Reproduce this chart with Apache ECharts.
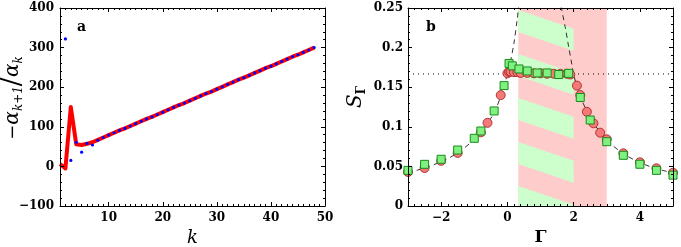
<!DOCTYPE html>
<html><head><meta charset="utf-8">
<script src="https://cdn.jsdelivr.net/npm/echarts@6/dist/echarts.min.js"></script>
<style>html,body{margin:0;padding:0;background:#fff}#c{width:681px;height:247px}</style>
</head><body><div id="c"></div>
<script>
// ---------- Panel a data ----------
const kRed = [1,2,3,4,5,6,7,8,9,10,11,12,13,14,15,16,17,18,19,20,21,22,23,24,25,26,27,28,29,30,31,32,33,34,35,36,37,38,39,40,41,42,43,44,45,46,47,48];
const redVals = [6,-5,150,56,54,57,61,67,73,79,85,91,96,102,108,114,120,125,131,137,143,149,155,160,166,172,178,184,189,195,201,207,213,219,224,230,236,242,248,253,259,265,271,277,282,288,294,300];
const kBlue = [2,3,4,5,6,7,8,9,10,11,12,13,14,15,16,17,18,19,20,21,22,23,24,25,26,27,28,29,30,31,32,33,34,35,36,37,38,39,40,41,42,43,44,45,46,47,48];
const blueVals = [322,15,61,36,58,54,66,73,79,85,91,96,102,108,114,120,125,131,137,143,149,155,160,166,172,178,184,189,195,201,207,213,219,224,230,236,242,248,253,259,265,271,277,282,288,294,300];
const aXTicks = [10,20,30,40,50];
const aYTicks = [-100,0,100,200,300,400];

// ---------- Panel b data ----------
const circG = [-3,-2.5,-2,-1.5,-0.8,-0.6,-0.2,0,0.05,0.1,0.2,0.3,0.4,0.6,0.8,1.0,1.2,1.4,1.6,1.8,1.9,2.1,2.2,2.4,2.6,2.8,3.0,3.5,4.0,4.5,5.0];
const circS = [0.043,0.048,0.057,0.067,0.093,0.105,0.140,0.1675,0.1695,0.1695,0.169,0.169,0.168,0.168,0.1675,0.1675,0.167,0.167,0.167,0.167,0.166,0.152,0.140,0.119,0.1044,0.0926,0.0842,0.0665,0.0552,0.0476,0.042];
const sqG = [-3,-2.5,-2,-1.5,-1.0,-0.8,-0.4,-0.1,0.05,0.15,0.35,0.6,0.9,1.2,1.55,1.85,2.2,2.5,3.0,3.5,4.0,4.5,5.0];
const sqS = [0.045,0.0526,0.059,0.0707,0.0855,0.0947,0.120,0.152,0.180,0.177,0.173,0.1705,0.168,0.168,0.166,0.1675,0.137,0.1086,0.0812,0.064,0.0527,0.045,0.039];
const theoryLeftG = [-3,-2.5,-2,-1.5,-1,-0.8,-0.6,-0.4,-0.2,-0.1,0,0.1,0.2,0.3,0.34];
const theoryLeftS = [0.042,0.048,0.056,0.067,0.084,0.093,0.104,0.118,0.138,0.151,0.167,0.184,0.206,0.237,0.252];
const theoryRightG = [1.62,1.75,1.85,1.95,2.0,2.1,2.2,2.4,2.6,2.8,3.0,3.5,4.0,4.5,5.0];
const theoryRightS = [0.252,0.225,0.201,0.178,0.166,0.151,0.138,0.120,0.105,0.093,0.083,0.066,0.055,0.047,0.042];
const plateauG = [-3,5];
const plateauS = [0.1667,0.1667];
const pinkBand = [0.33,3];
const hatchBand = [0.33,2];
const bXTicks = [-2,0,2,4];
const bYTicks = [0,0.05,0.1,0.15,0.2,0.25];

function steps(a,b,st,skip){const r=[];for(let v=a;v<=b+1e-9;v+=st){const q=Math.round(v*1000)/1000;if(!skip.some(s=>Math.abs(s-q)<1e-9))r.push(q);}return r;}
const aXMinor = steps(2,49,1,aXTicks);
const aYMinor = steps(-80,380,20,aYTicks);
const bXMinor = steps(-2.8,4.8,0.2,bXTicks);
const bYMinor = steps(0.01,0.24,0.01,bYTicks);

const FONT = 'DejaVu Serif';
const xAxes=[], yAxes=[];
function axisSet(list, dim, grid, min, max, major, minor, labelCfg, nameCfg){
  const pos = dim==='x' ? ['bottom','top'] : ['left','right'];
  const main = list.length;
  pos.forEach((p,i)=>{
    list.push(Object.assign({
      type:'value', gridIndex:grid, position:p, min:min, max:max, z:10,
      axisLine:{show:true,onZero:false,lineStyle:{color:'#000',width:1}},
      axisTick:{show:true,inside:true,length:4,customValues:major,lineStyle:{color:'#000',width:1}},
      axisLabel: i===0 ? Object.assign({show:true,customValues:major,formatter:v=>String(v).replace('-','\u2212'),color:'#000',fontFamily:FONT,fontWeight:'bold',fontSize:12},labelCfg) : {show:false},
      splitLine:{show:false}
    }, i===0 ? nameCfg : {}));
    list.push({
      type:'value', gridIndex:grid, position:p, min:min, max:max, z:10,
      axisLine:{show:false,onZero:false}, axisLabel:{show:false}, splitLine:{show:false},
      axisTick:{show:true,inside:true,length:2,customValues:minor,lineStyle:{color:'#000',width:1}}
    });
  });
  return main;
}
const ax0 = axisSet(xAxes,'x',0,1,50,aXTicks,aXMinor,{margin:6},{
  name:'k', nameLocation:'middle', nameGap:22, nameTextStyle:{fontFamily:FONT,fontStyle:'italic',fontSize:18,color:'#000'}});
const ay0 = axisSet(yAxes,'y',0,-100,400,aYTicks,aYMinor,{margin:6},{});
const ax1 = axisSet(xAxes,'x',1,-3,5,bXTicks,bXMinor,{margin:6},{
  name:'\u0393', nameLocation:'middle', nameGap:22, nameTextStyle:{fontFamily:FONT,fontWeight:'bold',fontSize:17,color:'#000'}});
const ay1 = axisSet(yAxes,'y',1,0,0.25,bYTicks,bYMinor,{margin:5},{});

function clipPoly(pts,x0,y0,x1,y1){
  const edges=[p=>p[0]>=x0,p=>p[0]<=x1,p=>p[1]>=y0,p=>p[1]<=y1];
  const inter=[(a,b)=>{const t=(x0-a[0])/(b[0]-a[0]);return [x0,a[1]+t*(b[1]-a[1])];},
               (a,b)=>{const t=(x1-a[0])/(b[0]-a[0]);return [x1,a[1]+t*(b[1]-a[1])];},
               (a,b)=>{const t=(y0-a[1])/(b[1]-a[1]);return [a[0]+t*(b[0]-a[0]),y0];},
               (a,b)=>{const t=(y1-a[1])/(b[1]-a[1]);return [a[0]+t*(b[0]-a[0]),y1];}];
  let out=pts;
  for(let e=0;e<4;e++){
    const inp=out; out=[];
    for(let i=0;i<inp.length;i++){
      const cur=inp[i], prev=inp[(i+inp.length-1)%inp.length];
      const ci=edges[e](cur), pi=edges[e](prev);
      if(ci){ if(!pi) out.push(inter[e](prev,cur)); out.push(cur); }
      else if(pi){ out.push(inter[e](prev,cur)); }
    }
    if(!out.length) break;
  }
  return out;
}

const series = [
  {type:'custom', xAxisIndex:ax1, yAxisIndex:ay1, z:1, silent:true,
   data:[[pinkBand[0],pinkBand[1],0,0.25]], encode:{x:[0,1],y:[2,3]},
   renderItem:(params,api)=>{
     const a=api.coord([api.value(0),api.value(3)]), b=api.coord([api.value(1),api.value(2)]);
     return {type:'rect',shape:{x:a[0],y:a[1],width:b[0]-a[0],height:b[1]-a[1]},style:{fill:'#ffcccc'}};
   }},
  {type:'custom', xAxisIndex:ax1, yAxisIndex:ay1, z:1, silent:true,
   data:[[hatchBand[0],hatchBand[1],0,0.25]], encode:{x:[0,1],y:[2,3]},
   renderItem:(params,api)=>{
     const a=api.coord([api.value(0),api.value(3)]), b=api.coord([api.value(1),api.value(2)]);
     const x0=a[0],y0=a[1],x1=b[0],y1=b[1],w=x1-x0;
     const slope=0.34, period=44, green=22, phase=y0+2;
     const children=[];
     for(let k=-3;k<10;k++){
       const yt=phase+k*period;
       const poly=[[x0,yt],[x1,yt+slope*w],[x1,yt+slope*w+green],[x0,yt+green]];
       const c=clipPoly(poly,x0,y0,x1,y1);
       if(c.length>2) children.push({type:'polygon',shape:{points:c},style:{fill:'#ccffcc'}});
     }
     return {type:'group',children:children};
   }},
  {type:'line', xAxisIndex:ax1, yAxisIndex:ay1, z:2, data:plateauG.map((g,i)=>[g,plateauS[i]]),
   symbol:'none', lineStyle:{color:'#000',width:1,type:[1,4]}, silent:true},
  {type:'line', xAxisIndex:ax1, yAxisIndex:ay1, z:2, data:theoryLeftG.map((g,i)=>[g,theoryLeftS[i]]),
   symbol:'none', smooth:0.3, lineStyle:{color:'#000',width:0.8,type:[5,4]}, silent:true},
  {type:'line', xAxisIndex:ax1, yAxisIndex:ay1, z:2, data:theoryRightG.map((g,i)=>[g,theoryRightS[i]]),
   symbol:'none', smooth:0.3, lineStyle:{color:'#000',width:0.8,type:[5,4]}, silent:true},
  {type:'scatter', xAxisIndex:ax1, yAxisIndex:ay1, z:3, data:circG.map((g,i)=>[g,circS[i]]),
   symbol:'circle', symbolSize:9, itemStyle:{color:'#f47a7a',borderColor:'#a01818',borderWidth:0.8,opacity:1}},
  {type:'scatter', xAxisIndex:ax1, yAxisIndex:ay1, z:4, data:sqG.map((g,i)=>[g,sqS[i]]),
   symbol:'rect', symbolSize:8, itemStyle:{color:'#80f080',borderColor:'#1a8a1a',borderWidth:1,opacity:1}},
  {type:'line', xAxisIndex:ax0, yAxisIndex:ay0, z:2, data:kRed.map((k,i)=>[k,redVals[i]]),
   symbol:'none', lineStyle:{color:'#ff0000',width:4,join:'round'}, silent:true},
  {type:'scatter', xAxisIndex:ax0, yAxisIndex:ay0, z:3, data:kBlue.map((k,i)=>[k,blueVals[i]]),
   symbol:'circle', symbolSize:3.2, itemStyle:{color:'#0000ff',opacity:1}}
];

const richA = {
  m:{fontFamily:FONT,fontSize:18,fill:'#000',lineHeight:24},
  a:{fontFamily:FONT,fontStyle:'italic',fontSize:20,fill:'#000',lineHeight:24},
  s:{fontFamily:FONT,fontStyle:'italic',fontSize:12,fill:'#000',verticalAlign:'bottom',lineHeight:14},
  sl:{fontFamily:FONT,fontSize:27,fill:'#000',lineHeight:24}};
const richB = {
  a:{fontFamily:FONT,fontStyle:'italic',fontSize:20,fill:'#000',lineHeight:24},
  s:{fontFamily:FONT,fontWeight:'bold',fontSize:12,fill:'#000',verticalAlign:'bottom',lineHeight:14}};

const chart = echarts.init(document.getElementById('c'), null, {renderer:'canvas'});
chart.setOption({
  animation:false, backgroundColor:'#fff',
  grid:[{left:60,top:8,width:265,height:198,outerBoundsMode:'none',containLabel:false},
        {left:408,top:8,width:265,height:198,outerBoundsMode:'none',containLabel:false}],
  xAxis:xAxes, yAxis:yAxes, series:series,
  graphic:[
    {type:'text',left:77,top:20,z:20,style:{text:'a',font:'bold 14px "DejaVu Serif"',fill:'#000'}},
    {type:'text',left:426,top:20,z:20,style:{text:'b',font:'bold 14px "DejaVu Serif"',fill:'#000'}},
    {type:'text',x:13,y:98,rotation:Math.PI/2,z:20,
     style:{text:'{m|\u2212}{a|\u03b1}{s|k+1}{sl|/}{a|\u03b1}{s|k}',align:'center',verticalAlign:'middle',rich:richA}},
    {type:'text',x:356,y:97,rotation:Math.PI/2,z:20,
     style:{text:'{a|S}{s|\u0393}',align:'center',verticalAlign:'middle',rich:richB}}
  ]
});
</script></body></html>
